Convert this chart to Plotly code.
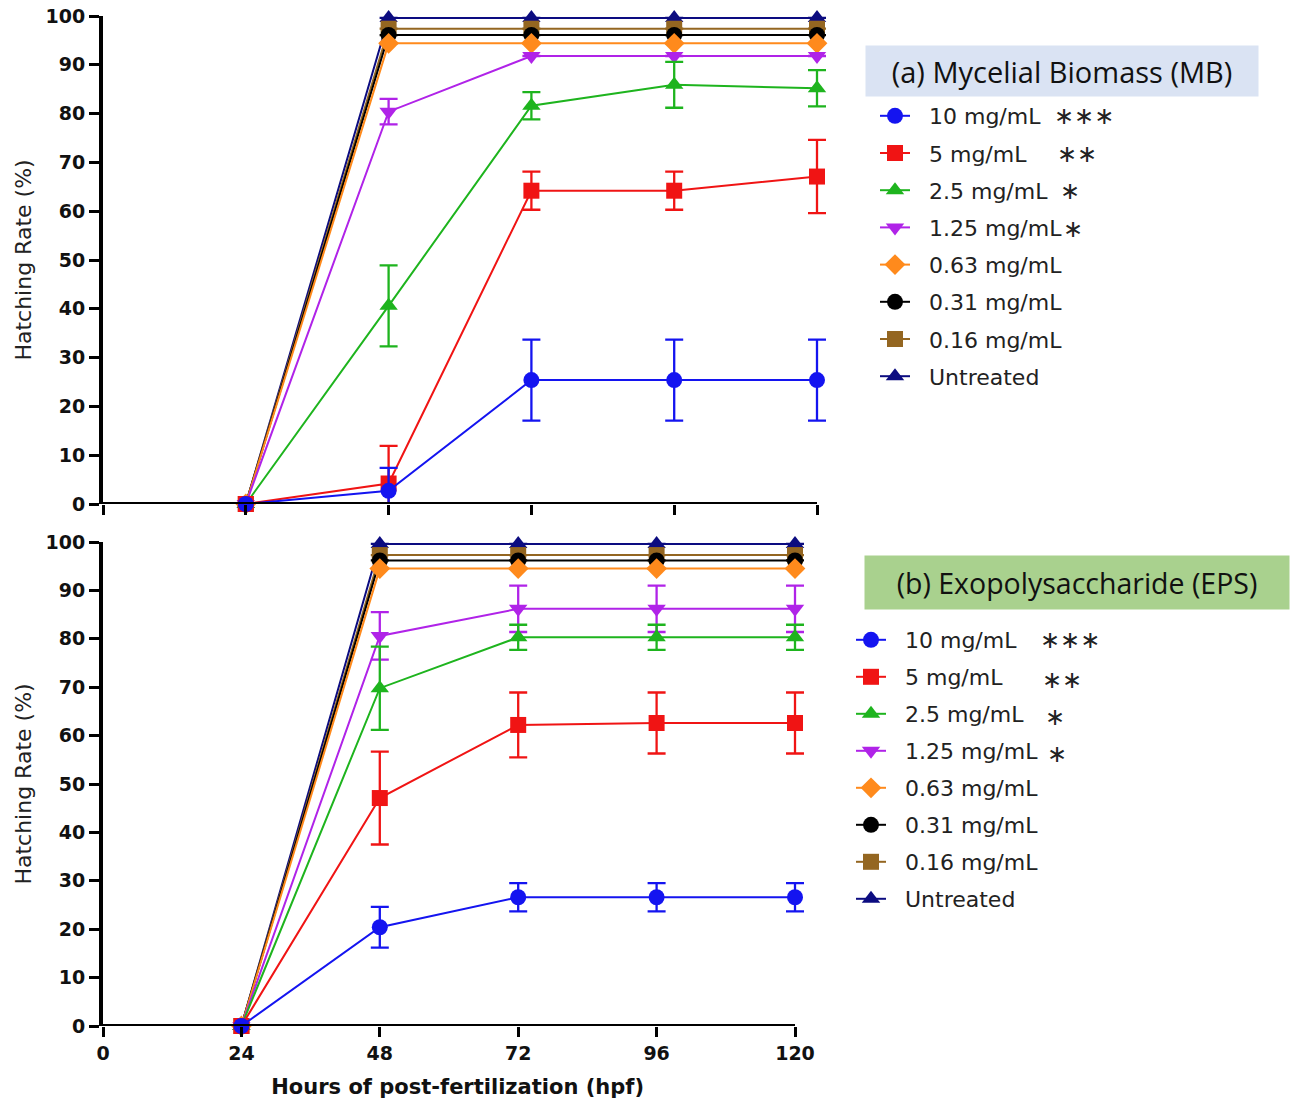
import plotly.graph_objects as go

W, H = 1295, 1105

hours = [24, 48, 72, 96, 120]
labels = ["10 mg/mL", "5 mg/mL", "2.5 mg/mL", "1.25 mg/mL",
          "0.63 mg/mL", "0.31 mg/mL", "0.16 mg/mL", "Untreated"]
stars = ["***", "**", "*", "*", "", "", "", ""]
colors = ["#1414f0", "#f01414", "#1eb41e", "#b023e8",
          "#ff8a1c", "#000000", "#946621", "#0c0c80"]
symbols = ["circle", "square", "triangle-up", "triangle-down",
           "diamond", "circle", "square", "triangle-up"]

# (a) Mycelial Biomass (MB): mean hatching rate (%) and error
mb_mean = [
    [0, 2.7, 25.4, 25.4, 25.4],
    [0, 4.2, 64.2, 64.2, 67.1],
    [0, 40.6, 81.6, 85.9, 85.2],
    [0, 80.4, 91.8, 91.8, 91.8],
    [0, 94.4, 94.4, 94.4, 94.4],
    [0, 96.1, 96.1, 96.1, 96.1],
    [0, 97.4, 97.4, 97.4, 97.4],
    [0, 99.6, 99.6, 99.6, 99.6],
]
mb_err = [
    [None, 4.7, 8.3, 8.3, 8.3],
    [None, 7.7, 3.9, 3.9, 7.5],
    [None, 8.3, 2.8, 4.7, 3.7],
    [None, 2.6, None, None, None],
    [None, None, None, None, None],
    [None, None, None, None, None],
    [None, None, None, None, None],
    [None, None, None, None, None],
]

# (b) Exopolysaccharide (EPS)
eps_mean = [
    [0, 20.4, 26.6, 26.6, 26.6],
    [0, 47.1, 62.2, 62.6, 62.6],
    [0, 69.8, 80.3, 80.3, 80.3],
    [0, 80.6, 86.2, 86.2, 86.2],
    [0, 94.5, 94.5, 94.5, 94.5],
    [0, 96.2, 96.2, 96.2, 96.2],
    [0, 97.3, 97.3, 97.3, 97.3],
    [0, 99.6, 99.6, 99.6, 99.6],
]
eps_err = [
    [None, 4.2, 2.9, 2.9, 2.9],
    [None, 9.6, 6.7, 6.3, 6.3],
    [None, 8.6, 2.6, 2.6, 2.6],
    [None, 4.9, 4.8, 4.8, 4.8],
    [None, None, None, None, None],
    [None, None, None, None, None],
    [None, None, None, None, None],
    [None, None, None, None, None],
]

x_ticks = [0, 24, 48, 72, 96, 120]
y_ticks = [0, 10, 20, 30, 40, 50, 60, 70, 80, 90, 100]
X_MAX = 120      # end of the drawn x axis line
X_PAD = 3        # extra room so error-bar caps at 120 are not clipped

fig = go.Figure()

NB = "\u00a0\u00a0"
for means, errs, xa, ya, lg in [
        (mb_mean, mb_err, "x", "y", "legend"),
        (eps_mean, eps_err, "x2", "y2", "legend2")]:
    for i in reversed(range(len(labels))):
        fig.add_trace(go.Scatter(
            x=hours, y=means[i], xaxis=xa, yaxis=ya,
            mode="lines+markers", name=NB + labels[i],
            legend=lg, legendgroup=f"{lg}_{i}", legendrank=i + 1,
            line=dict(color=colors[i], width=2),
            marker=dict(color=colors[i], symbol=symbols[i], size=16,
                        line=dict(width=0)),
            error_y=dict(type="data", array=errs[i], visible=True,
                         color=colors[i], thickness=2.3, width=9),
            cliponaxis=False, showlegend=True,
        ))


def px_x(p):
    return p / W


def px_y(p):
    return 1 - p / H


def xdomain(x0_px, x120_px):
    per = (x120_px - x0_px) / X_MAX
    return [px_x(x0_px), px_x(x0_px + per * (X_MAX + X_PAD))]


tickfont = dict(family="DejaVu Sans", size=19, color="#111")
axis_common = dict(
    ticks="outside", ticklen=10, tickwidth=3, tickcolor="black",
    showgrid=False, zeroline=False, automargin=False,
    ticklabeloverflow="allow", tickfont=tickfont,
)
ytitle_font = dict(family="DejaVu Sans", size=22, color="#222")

fig.update_layout(
    width=W, height=H,
    margin=dict(l=0, r=0, t=0, b=0, autoexpand=False),
    paper_bgcolor="white", plot_bgcolor="white",
    font=dict(family="DejaVu Sans", color="#111"),
    xaxis=dict(domain=xdomain(103, 817), range=[0, X_MAX + X_PAD],
               tickvals=x_ticks, showticklabels=False, anchor="y",
               showline=False, **axis_common),
    yaxis=dict(domain=[px_y(504), px_y(16)], range=[0, 100],
               tickvals=y_ticks, ticktext=[f"<b>{v}</b>" for v in y_ticks],
               anchor="x", showline=True, linecolor="black", linewidth=4,
               title=dict(text="Hatching Rate (%)", standoff=9, font=ytitle_font),
               **axis_common),
    xaxis2=dict(domain=xdomain(103, 795), range=[0, X_MAX + X_PAD],
                tickvals=x_ticks, ticktext=[f"<b>{v}</b>" for v in x_ticks],
                anchor="y2", showline=False,
                title=dict(text="<b>Hours of post-fertilization (hpf)</b>",
                           standoff=16,
                           font=dict(family="DejaVu Sans", size=21, color="#111")),
                **axis_common),
    yaxis2=dict(domain=[px_y(1026), px_y(542)], range=[0, 100],
                tickvals=y_ticks, ticktext=[f"<b>{v}</b>" for v in y_ticks],
                anchor="x2", showline=True, linecolor="black", linewidth=4,
                title=dict(text="Hatching Rate (%)", standoff=9, font=ytitle_font),
                **axis_common),
    legend=dict(x=px_x(875), y=px_y(95), xanchor="left", yanchor="top",
                traceorder="grouped", tracegroupgap=5.6,
                bgcolor="rgba(0,0,0,0)", itemclick=False,
                font=dict(family="DejaVu Sans", size=22, color="#222")),
    legend2=dict(x=px_x(851), y=px_y(619), xanchor="left", yanchor="top",
                 traceorder="grouped", tracegroupgap=5.4,
                 bgcolor="rgba(0,0,0,0)", itemclick=False,
                 font=dict(family="DejaVu Sans", size=22, color="#222")),
    showlegend=True,
)

# x axis baselines (from 0 to 120 h)
for xr, yr in [("x", "y"), ("x2", "y2")]:
    fig.add_shape(type="line", xref=xr, yref=yr, x0=0, x1=X_MAX, y0=0, y1=0,
                  line=dict(color="black", width=4), layer="above")

# Legend title boxes
fig.add_annotation(xref="paper", yref="paper", x=px_x(1062), y=px_y(71),
                   xanchor="center", yanchor="middle",
                   text="(a) Mycelial Biomass (MB)", showarrow=False,
                   bgcolor="#dae3f3", width=392, height=50, borderpad=0,
                   font=dict(family="Open Sans", size=29, color="#111"))
fig.add_annotation(xref="paper", yref="paper", x=px_x(1077), y=px_y(582),
                   xanchor="center", yanchor="middle",
                   text="(b) Exopolysaccharide (EPS)", showarrow=False,
                   bgcolor="#a9d18e", width=424, height=53, borderpad=0,
                   font=dict(family="Open Sans", size=28.5, color="#111"))

# Significance stars
star_pos_a = [(1084, 116), (1077, 154), (1070, 191), (1073, 229)]
star_pos_b = [(1070, 640), (1062, 680), (1055, 717), (1057, 754)]
for positions in (star_pos_a, star_pos_b):
    for (sx, sy), s in zip(positions, stars):
        fig.add_annotation(xref="paper", yref="paper", x=px_x(sx), y=px_y(sy),
                           xanchor="center", yanchor="middle",
                           text=s.replace("*", "\u2217"), showarrow=False,
                           font=dict(family="DejaVu Sans", size=24, color="#222"))

fig.write_html(
    "out.html",
    config={"displayModeBar": False},
    post_script="document.body.style.margin='0px';"
                "document.body.style.overflow='hidden';",
)
